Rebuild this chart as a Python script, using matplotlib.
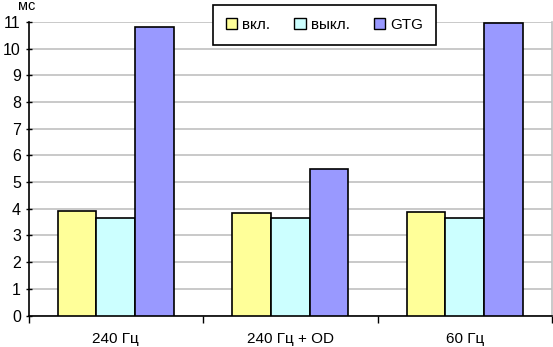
import matplotlib
matplotlib.use("Agg")
import matplotlib.pyplot as plt
from matplotlib.patches import Patch
import numpy as np

categories = ["240 Гц", "240 Гц + OD", "60 Гц"]
series_names = ["вкл.", "выкл.", "GTG"]
on_vals = [3.90, 3.85, 3.87]
off_vals = [3.66, 3.64, 3.64]
gtg_vals = [10.80, 5.48, 10.97]
colors = ["#FFFF99", "#CCFFFF", "#9999FF"]
yticks = list(range(0, 12))

plt.rcParams['font.family'] = ['Liberation Sans', 'DejaVu Sans']

W, H = 553, 347
fig = plt.figure(figsize=(W/100, H/100), dpi=100)
ax = fig.add_axes([28.5/W, 1-315.5/H, (552-28.5)/W, (315.5-22)/H])

x = np.arange(len(categories))
bw = 1/4.5
for i, (vals, c) in enumerate(zip([on_vals, off_vals, gtg_vals], colors)):
    ax.bar(x + (i-1)*bw, vals, width=bw, color=c, edgecolor="black", linewidth=1.2, zorder=3)

ax.set_xlim(-0.5, 2.5)
ax.set_ylim(0, 11)
ax.set_yticks(yticks)
ax.set_yticklabels([str(t) for t in yticks], fontsize=11.5)
ax.yaxis.grid(True, color="#C0C0C0", linewidth=1.2, zorder=0)
ax.set_xticks([-0.5, 0.5, 1.5, 2.5])
ax.set_xticklabels([])
ax.set_xticks(x, minor=True)
ax.set_xticklabels(categories, minor=True, fontsize=11)
ax.tick_params(axis='x', which='minor', length=0, pad=12)
ax.tick_params(axis='x', which='major', length=5, direction='out', width=1)
ax.tick_params(axis='y', length=5, direction='inout', width=1, pad=3)
for s in ["top"]:
    ax.spines[s].set_visible(False)
ax.spines["right"].set_color("#C0C0C0")
ax.spines["right"].set_linewidth(1.2)
ax.spines["left"].set_linewidth(1.2)
ax.spines["bottom"].set_linewidth(1.2)

fig.text(27/W, 1-6/H, "мс", fontsize=10.5, ha="center", va="center")

handles = [Patch(facecolor=c, edgecolor="black", linewidth=1) for c in colors]
leg = ax.legend(handles, series_names, ncol=3, loc="upper left",
                bbox_to_anchor=((213-28.5)/(552-28.5), 1 + (22-4.7)/(315.5-22)),
                borderaxespad=0,
                frameon=True, fancybox=False, edgecolor="black", fontsize=11,
                handlelength=0.75, handleheight=0.75, handletextpad=0.3,
                columnspacing=1.6, borderpad=0.85, framealpha=1)
leg.get_frame().set_linewidth(1.2)
leg.set_zorder(5)

fig.savefig("out.png", dpi=100)
